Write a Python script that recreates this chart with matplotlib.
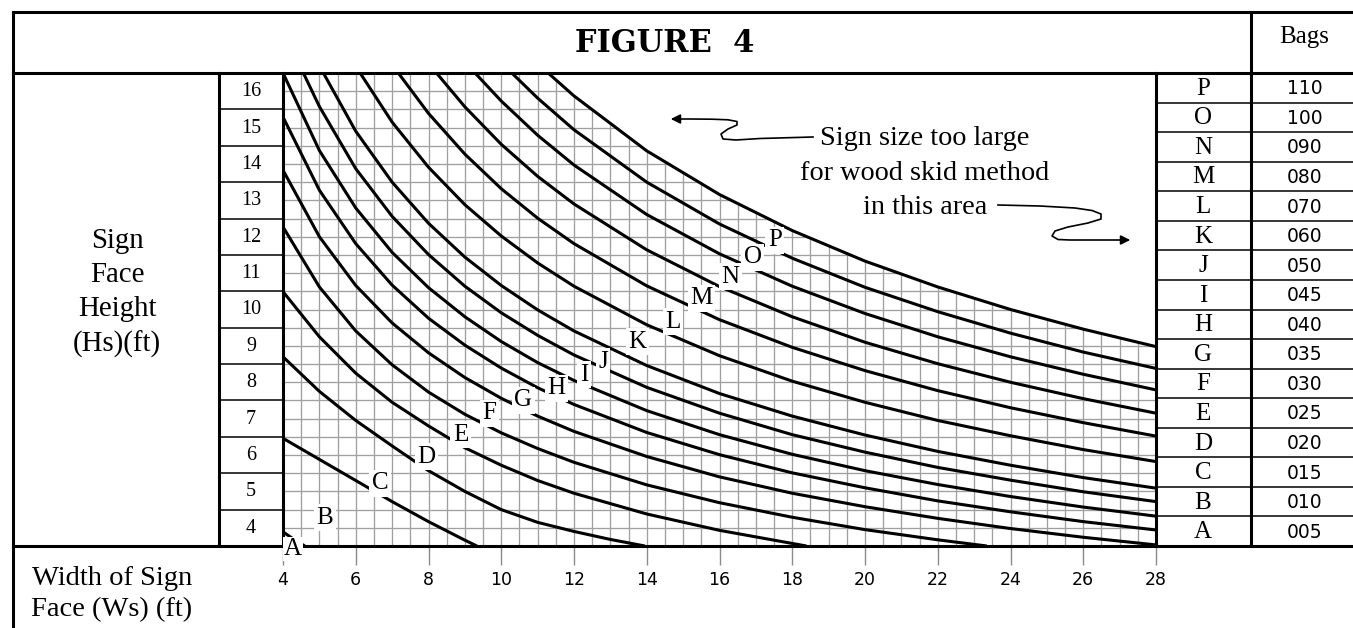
import matplotlib
matplotlib.use('Agg')
import matplotlib.pyplot as plt
import numpy as np

# ---------------- data ----------------
x_ticks = [4, 6, 8, 10, 12, 14, 16, 18, 20, 22, 24, 26, 28]
y_tick_labels = [16, 15, 14, 13, 12, 11, 10, 9, 8, 7, 6, 5, 4]
letters = ['P', 'O', 'N', 'M', 'L', 'K', 'J', 'I', 'H', 'G', 'F', 'E', 'D', 'C', 'B', 'A']
bags = ['110', '100', '090', '080', '070', '060', '050', '045', '040', '035',
        '030', '025', '020', '015', '010', '005']

A_x = [4, 4.3, 4.6]
A_y = [3.89, 3.68, 3.5]
B_x = [4, 5, 6, 7, 8, 9, 9.33]
B_y = [6.46, 5.88, 5.30, 4.72, 4.17, 3.66, 3.5]
C_x = [4, 5, 6, 7, 8, 9, 10, 11, 12, 13, 13.95]
C_y = [8.70, 7.75, 6.95, 6.25, 5.57, 5.00, 4.50, 4.15, 3.90, 3.68, 3.5]
D_x = [4, 5, 6, 7, 8, 9, 10, 11, 12, 14, 16, 18, 18.39]
D_y = [10.49, 9.25, 8.25, 7.45, 6.80, 6.20, 5.72, 5.30, 4.95, 4.38, 3.93, 3.57, 3.5]
E_x = [4, 5, 6, 7, 8, 9, 10, 11, 12, 14, 16, 18, 20, 22, 23.35]
E_y = [12.27, 10.62, 9.41, 8.48, 7.73, 7.12, 6.61, 6.18, 5.80, 5.18, 4.69, 4.29, 3.95, 3.67, 3.5]
F_x = [4, 5, 6, 7, 8, 9, 10, 11, 12, 14, 16, 18, 20, 22, 24, 26, 28]
F_y = [13.83, 12.00, 10.66, 9.63, 8.81, 8.13, 7.56, 7.07, 6.65, 5.96, 5.40, 4.95, 4.58, 4.26, 3.98, 3.74, 3.53]
G_x = [4, 5, 6, 7, 8, 9, 10, 11, 12, 14, 16, 18, 20, 22, 24, 26, 28]
G_y = [15.29, 13.28, 11.81, 10.67, 9.76, 9.02, 8.39, 7.85, 7.39, 6.62, 6.01, 5.51, 5.10, 4.74, 4.44, 4.17, 3.94]
H_x = [4, 5, 6, 7, 8, 9, 10, 11, 12, 14, 16, 18, 20, 22, 24, 26, 28]
H_y = [16.5, 14.37, 12.79, 11.57, 10.60, 9.80, 9.12, 8.54, 8.05, 7.22, 6.56, 6.02, 5.57, 5.19, 4.86, 4.57, 4.32]
I_x = [4.56, 5, 6, 7, 8, 9, 10, 11, 12, 14, 16, 18, 20, 22, 24, 26, 28]
I_y = [16.5, 15.58, 13.87, 12.56, 11.51, 10.64, 9.91, 9.29, 8.75, 7.86, 7.15, 6.56, 6.08, 5.66, 5.31, 4.99, 4.72]
J_x = [5.11, 6, 7, 8, 9, 10, 11, 12, 14, 16, 18, 20, 22, 24, 26, 28]
J_y = [16.5, 14.90, 13.50, 12.37, 11.44, 10.66, 9.99, 9.41, 8.46, 7.69, 7.07, 6.55, 6.10, 5.72, 5.38, 5.09]
K_x = [6.12, 7, 8, 9, 10, 11, 12, 14, 16, 18, 20, 22, 24, 26, 28]
K_y = [16.5, 15.15, 13.91, 12.88, 12.02, 11.28, 10.64, 9.58, 8.73, 8.03, 7.45, 6.95, 6.53, 6.15, 5.82]
L_x = [7.17, 8, 9, 10, 11, 12, 14, 16, 18, 20, 22, 24, 26, 28]
L_y = [16.5, 15.39, 14.27, 13.32, 12.51, 11.81, 10.65, 9.72, 8.96, 8.32, 7.77, 7.30, 6.89, 6.52]
M_x = [8.22, 9, 10, 11, 12, 14, 16, 18, 20, 22, 24, 26, 28]
M_y = [16.5, 15.57, 14.54, 13.66, 12.90, 11.64, 10.63, 9.80, 9.10, 8.51, 8.00, 7.55, 7.15]
N_x = [9.28, 10, 11, 12, 14, 16, 18, 20, 22, 24, 26, 28]
N_y = [16.5, 15.73, 14.79, 13.97, 12.61, 11.53, 10.64, 9.89, 9.25, 8.70, 8.22, 7.79]
O_x = [10.29, 11, 12, 14, 16, 18, 20, 22, 24, 26, 28]
O_y = [16.5, 15.81, 14.94, 13.50, 12.35, 11.41, 10.61, 9.94, 9.35, 8.83, 8.38]
P_x = [11.29, 12, 14, 16, 18, 20, 22, 24, 26, 28]
P_y = [16.5, 15.87, 14.36, 13.16, 12.17, 11.33, 10.62, 10.00, 9.46, 8.98]

curves = [(A_x, A_y), (B_x, B_y), (C_x, C_y), (D_x, D_y), (E_x, E_y), (F_x, F_y),
          (G_x, G_y), (H_x, H_y), (I_x, I_y), (J_x, J_y), (K_x, K_y), (L_x, L_y),
          (M_x, M_y), (N_x, N_y), (O_x, O_y), (P_x, P_y)]

# curve label positions (data units)
label_letters = ['B', 'C', 'D', 'E', 'F', 'G', 'H', 'I', 'J', 'K', 'L', 'M', 'N', 'O', 'P']
label_x = [5.15, 6.67, 7.95, 8.88, 9.68, 10.6, 11.52, 12.27, 12.8, 13.75, 14.72, 15.5, 16.29, 16.91, 17.52]
label_y = [4.27, 5.22, 5.95, 6.56, 7.15, 7.51, 7.84, 8.2, 8.57, 9.11, 9.66, 10.31, 10.9, 11.44, 11.91]

# ---------------- figure ----------------
W, H = 1353, 628
fig = plt.figure(figsize=(W / 100, H / 100), dpi=100)
fig.patch.set_facecolor('white')

SERIF = ['Liberation Serif', 'DejaVu Serif']
SANS = ['DejaVu Sans']

PL, PR, PT, PB = 283, 1156, 73, 546
ax = fig.add_axes([PL / W, 1 - PB / H, (PR - PL) / W, (PB - PT) / H])
ax.set_xlim(4, 28)
ax.set_ylim(3.5, 16.5)
for s in ax.spines.values():
    s.set_visible(False)

grid_col = '#a0a0a0'
ax.vlines(np.arange(4, 28.01, 0.5), 3.5, 16.5, color=grid_col, lw=0.95, zorder=1)
ax.hlines(np.arange(3.5, 16.51, 0.5), 4, 28, color=grid_col, lw=0.95, zorder=1)
# blank area above the largest curve
ax.fill_between(P_x, P_y, 16.6, color='white', zorder=2, lw=0)

for cx, cy in curves:
    ax.plot(cx, cy, color='black', lw=2.2, zorder=3, solid_capstyle='butt')

for t, lx, ly in zip(label_letters, label_x, label_y):
    ax.text(lx, ly, t, ha='center', va='center', fontsize=18, family=SERIF, zorder=4,
            bbox=dict(boxstyle='square,pad=0.1', fc='white', ec='none'))

ax.set_xticks(x_ticks)
ax.set_xticklabels([str(v) for v in x_ticks], family=SANS, fontsize=12.5)
ax.tick_params(axis='x', direction='out', length=14, width=1.0, color='#8a8a8a', pad=4)
ax.set_yticks([])

# ---------------- table overlay (pixel coords) ----------------
ov = fig.add_axes([0, 0, 1, 1], zorder=10)
ov.set_xlim(0, W)
ov.set_ylim(H, 0)
ov.axis('off')
ov.patch.set_alpha(0)

thick = 2.2
thin = 1.1
def line(xs, ys, lw):
    ov.plot(xs, ys, color='black', lw=lw, solid_capstyle='projecting')

line([12.5, W], [12, 12], thick)
line([12.5, 12.5], [12, H], thick)
line([12.5, W], [73, 73], thick)
line([12.5, W], [546, 546], thick)
line([219, 219], [73, 546], thick)
line([283, 283], [73, 546], thick)
line([1156, 1156], [73, 546], thick)
line([1251, 1251], [12, 546], thick)

row_h = (546 - 73) / 13
for k in range(1, 13):
    line([219, 283], [73 + k * row_h, 73 + k * row_h], thin)
for k, v in enumerate(y_tick_labels):
    ov.text(251, 73 + (k + 0.5) * row_h + 0.5, str(v), ha='center', va='center',
            fontsize=14.5, family=SERIF)

let_h = (546 - 73) / 16
for k in range(1, 16):
    line([1156, W], [73 + k * let_h, 73 + k * let_h], thin)
for k, (l, b) in enumerate(zip(letters, bags)):
    yc = 73 + (k + 0.5) * let_h
    ov.text(1203, yc + 1, l, ha='center', va='center', fontsize=18, family=SERIF)
    ov.text(1305, yc + 1, b, ha='center', va='center', fontsize=13.5, family=SANS)

ov.text(665, 44, 'FIGURE  4', ha='center', va='center', fontsize=22,
        family=['DejaVu Serif'], weight='bold')
ov.text(1304, 37, 'Bags', ha='center', va='center', fontsize=18, family=SERIF)
ov.text(117, 293, 'Sign\nFace\nHeight\n(Hs)(ft)', ha='center', va='center',
        fontsize=20.8, family=SERIF, linespacing=1.39)
ov.text(112, 594, 'Width of Sign\nFace (Ws) (ft)', ha='center', va='center',
        fontsize=20.5, family=SERIF, linespacing=1.3)
ov.text(925, 173, 'Sign size too large\nfor wood skid method\nin this area',
        ha='center', va='center', fontsize=20.3, family=SERIF, linespacing=1.5)
ov.text(293, 549, 'A', ha='center', va='center', fontsize=18, family=SERIF,
        bbox=dict(boxstyle='square,pad=0.05', fc='white', ec='none'))

# squiggly arrows
lx = [813, 760, 736, 723, 721, 728, 737, 737, 728, 712, 690, 678]
ly = [137, 138.5, 140, 139, 134, 129, 125, 121.5, 119.8, 119.2, 119, 119]
ov.plot(lx, ly, color='black', lw=1.2)
ov.annotate('', xy=(668, 119), xytext=(682, 119),
            arrowprops=dict(arrowstyle='-|>', lw=1.2, color='black', mutation_scale=14))
rx = [998, 1040, 1075, 1092, 1101, 1101, 1088, 1068, 1055, 1052, 1058, 1070, 1100, 1120]
ry = [205, 206, 208, 210.5, 214, 219, 223, 227, 231, 236, 239.5, 240, 240, 240]
ov.plot(rx, ry, color='black', lw=1.2)
ov.annotate('', xy=(1133, 240), xytext=(1118, 240),
            arrowprops=dict(arrowstyle='-|>', lw=1.2, color='black', mutation_scale=14))

fig.savefig('out.png', dpi=100, facecolor='white')
